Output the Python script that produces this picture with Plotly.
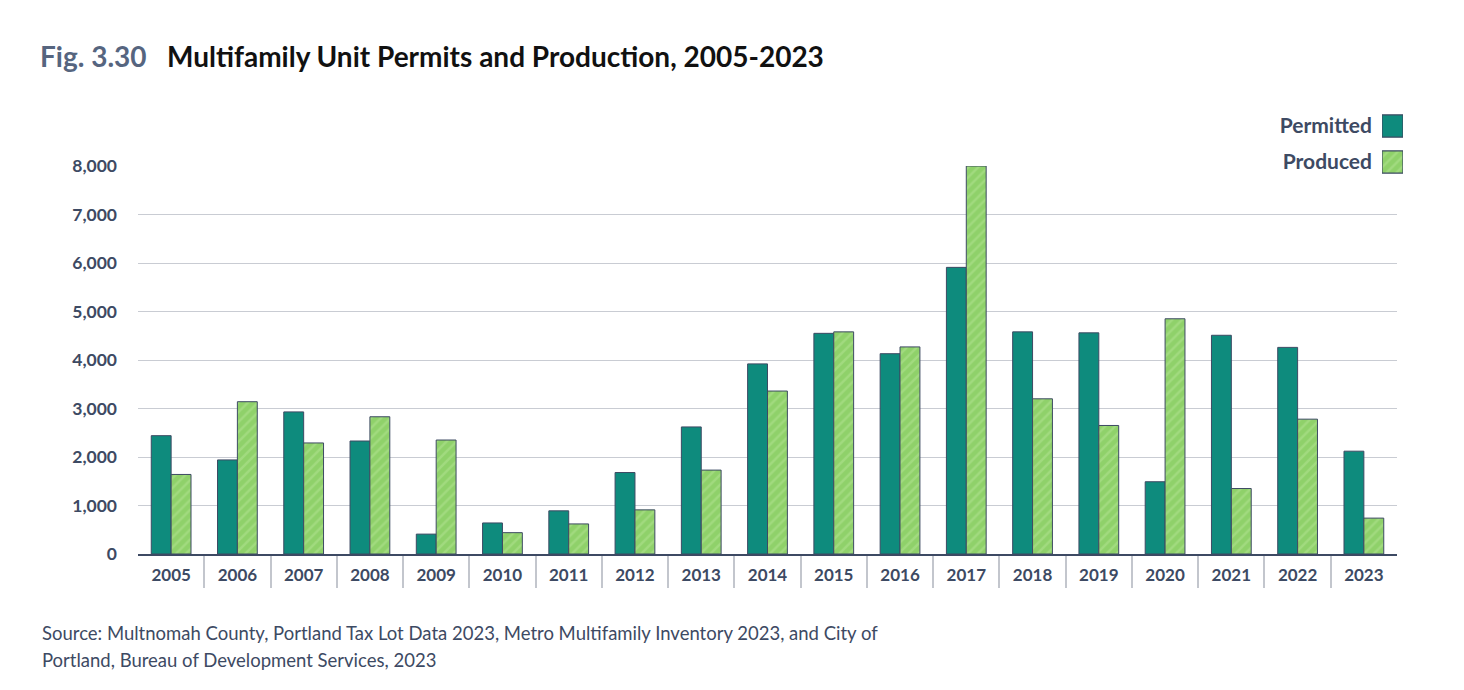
import plotly.graph_objects as go

years = [str(y) for y in range(2005, 2024)]
permitted = [2440, 1940, 2930, 2330, 410, 640, 890, 1680, 2620, 3920, 4550, 4130, 5910, 4580, 4560, 1490, 4510, 4260, 2120]
produced = [1640, 3140, 2290, 2830, 2350, 440, 620, 910, 1730, 3360, 4580, 4270, 8000, 3200, 2650, 4850, 1350, 2780, 740]
y_ticks = [0, 1000, 2000, 3000, 4000, 5000, 6000, 7000, 8000]
legend_names = ["Produced", "Permitted"]
source_lines = [
    "Source: Multnomah County, Portland Tax Lot Data 2023, Metro Multifamily Inventory 2023, and City of",
    "Portland, Bureau of Development Services, 2023",
]

TEAL = "#0e8b7d"
GREEN = "#8fd16a"
GREEN_HATCH = "#b4e494"
SLATE = "#3d4a63"
GRID = "#c9ccd3"
FONT = "Lato"

positions = list(range(len(years)))
dividers = [p + 0.5 for p in positions[:-1]]

# page has an 8px body margin; coordinates below are figure coords
W, H = 1464, 690
L, R, T, B = 130, 68, 92, 144
plot_w = W - L - R
plot_h = H - T - B
main_right = (1389 - L) / plot_w
main_top = (546 - 158) / plot_h

fig = go.Figure()
fig.add_trace(go.Bar(
    x=positions, y=permitted, name="Permitted", showlegend=False,
    customdata=years, hovertemplate="%{customdata}: %{y:,}<extra>Permitted</extra>",
    marker=dict(color=TEAL, line=dict(color=SLATE, width=1)),
))
fig.add_trace(go.Bar(
    x=positions, y=produced, name="Produced", showlegend=False,
    customdata=years, hovertemplate="%{customdata}: %{y:,}<extra>Produced</extra>",
    marker=dict(color=GREEN, line=dict(color=SLATE, width=1),
                pattern=dict(shape="/", fgcolor=GREEN_HATCH, bgcolor=GREEN, size=7, solidity=0.35)),
))

# legend drawn as a tiny horizontal-bar subplot (text left of swatch)
fig.add_trace(go.Bar(
    x=[1], y=["Permitted"], orientation="h", xaxis="x2", yaxis="y2", width=0.62,
    offsetgroup="leg", showlegend=False, hoverinfo="skip",
    marker=dict(color=TEAL, line=dict(color=SLATE, width=1.2)),
))
fig.add_trace(go.Bar(
    x=[1], y=["Produced"], orientation="h", xaxis="x2", yaxis="y2", width=0.62,
    offsetgroup="leg", showlegend=False, hoverinfo="skip",
    marker=dict(color=GREEN, line=dict(color=SLATE, width=1.2),
                pattern=dict(shape="/", fgcolor=GREEN_HATCH, bgcolor=GREEN, size=7, solidity=0.35)),
))

fig.update_layout(
    width=W, height=H,
    margin=dict(l=L, r=R, t=T, b=B),
    paper_bgcolor="white", plot_bgcolor="white",
    barmode="group", bargap=0.4, bargroupgap=0,
    font=dict(family=FONT, color=SLATE),
    title=dict(
        text='<span style="color:#56657f">Fig. 3.30</span>&nbsp;&nbsp;&nbsp;<span style="color:#111111">Multifamily Unit Permits and Production, 2005-2023</span>',
        font=dict(family=FONT, size=28, weight="bold"),
        xref="container", yref="container", x=32 / W, xanchor="left",
        y=1 - 49 / H, yanchor="middle",
    ),
    xaxis=dict(
        domain=[0, main_right], range=[-0.5, len(years) - 0.5],
        tickvals=positions, ticktext=years,
        showline=True, linecolor=SLATE, linewidth=2,
        ticks="", ticklabelstandoff=5,
        minor=dict(tickvals=dividers, ticks="outside", ticklen=32, tickcolor="#c3c6cd", tickwidth=1.5, showgrid=False),
        tickfont=dict(family=FONT, size=17, color=SLATE, weight="bold"),
        showgrid=False, zeroline=False, fixedrange=True,
    ),
    yaxis=dict(
        domain=[0, main_top], range=[0, 8000],
        tickvals=y_ticks, tickformat=",",
        showgrid=True, gridcolor=GRID, gridwidth=1,
        zeroline=False, showline=False, ticks="",
        ticklabelstandoff=20,
        tickfont=dict(family=FONT, size=17.5, color=SLATE, weight="bold"),
    ),
    xaxis2=dict(
        domain=[(1374 - L) / plot_w, (1395 - L) / plot_w], range=[0, 1],
        anchor="y2", showgrid=False, showticklabels=False, zeroline=False, showline=False,
        fixedrange=True,
    ),
    yaxis2=dict(
        domain=[(546 - 172) / plot_h, (546 - 100) / plot_h], anchor="x2",
        type="category", categoryorder="array", categoryarray=legend_names, range=[-0.5, 1.5],
        showgrid=False, zeroline=False, showline=False, ticks="",
        ticklabelstandoff=9,
        tickfont=dict(family=FONT, size=21, color=SLATE, weight="bold"),
        fixedrange=True,
    ),
    shapes=[dict(
        type="rect", xref="paper", yref="y", layer="between",
        x0=(1211 - L) / plot_w, x1=1.0, y0=7920, y1=8080,
        fillcolor="white", line=dict(width=0),
    )],
    annotations=[
        dict(
            text=line, xref="paper", yref="paper", x=(32 - L) / plot_w, y=(546 - yc) / plot_h,
            xanchor="left", yanchor="middle", align="left", showarrow=False,
            font=dict(family=FONT, size=18.5, color=SLATE),
        )
        for line, yc in zip(source_lines, [625, 652])
    ],
)

fig.write_html("out.html")
